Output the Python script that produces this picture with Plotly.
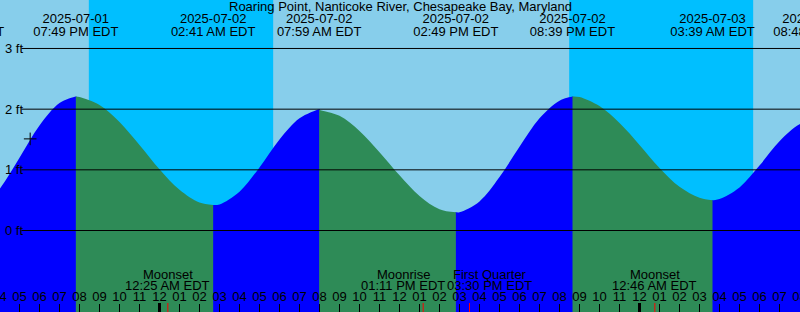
import plotly.graph_objects as go
import pandas as pd

# ---------------- data ----------------
title_text = "Roaring Point, Nanticoke River, Chesapeake Bay, Maryland"

# tide extremes (EDT)
ext_times = ['2025-07-01 14:06', '2025-07-01 19:49', '2025-07-02 02:41', '2025-07-02 07:59',
             '2025-07-02 14:49', '2025-07-02 20:39', '2025-07-03 03:39', '2025-07-03 08:48']
ext_heights = [0.20, 2.21, 0.42, 2.00, 0.30, 2.21, 0.50, 1.83]
ext_date_labels = ['2025-07-01', '2025-07-01', '2025-07-02', '2025-07-02',
                   '2025-07-02', '2025-07-02', '2025-07-03', '2025-07-03']
ext_time_labels = ['02:06 PM EDT', '07:49 PM EDT', '02:41 AM EDT', '07:59 AM EDT',
                   '02:49 PM EDT', '08:39 PM EDT', '03:39 AM EDT', '08:48 AM EDT']

# hourly water heights (ft), from 2025-07-01 15:00 to 2025-07-03 09:00
hourly_start = '2025-07-01 15:00'
hourly_heights = [0.31, 0.68, 1.20, 1.73, 2.10, 2.20, 2.07, 1.79, 1.41, 1.01,
                  0.67, 0.46, 0.43, 0.64, 1.04, 1.50, 1.85, 1.99, 1.89, 1.64,
                  1.29, 0.91, 0.57, 0.35, 0.30, 0.48, 0.88, 1.38, 1.85, 2.14,
                  2.20, 2.05, 1.77, 1.41, 1.03, 0.72, 0.54, 0.52, 0.71, 1.07,
                  1.47, 1.75, 1.83]

# sunset / sunrise
night_starts = ['2025-07-01 20:28', '2025-07-02 20:29']
night_ends = ['2025-07-02 05:41', '2025-07-03 05:41']

# moon events
moon_times = ['2025-07-02 00:25', '2025-07-02 13:11', '2025-07-02 15:30', '2025-07-03 00:46']
moon_names = ['Moonset', 'Moonrise', 'First Quarter', 'Moonset']
moon_time_labels = ['12:25 AM EDT', '01:11 PM EDT', '03:30 PM EDT', '12:46 AM EDT']

midnights = ['2025-07-02 00:00', '2025-07-03 00:00']

depth_values = [0, 1, 2, 3]
depth_labels = ['0 ft', '1 ft', '2 ft', '3 ft']

hour_ticks = pd.date_range('2025-07-01 16:00', '2025-07-03 08:00', freq='h')
hour_tick_labels = [t.strftime('%I') for t in hour_ticks]

mark_time = '2025-07-01 17:32'
mark_height = 1.51

# ---------------- styling constants ----------------
DAY = '#87CEEB'
NIGHT = '#00BFFF'
FLOOD = '#0000FF'
EBB = '#2E8B57'
FONT = 'Liberation Sans, Arial, sans-serif'
FS = 13
X_RANGE = ['2025-07-01 16:01:30', '2025-07-03 08:01:30']
Y_RANGE = [-1.343, 3.799]
BOTTOM = -3.0
OVERLAP = pd.Timedelta(minutes=2)   # flood areas reach slightly under the ebb areas

# ---------------- build ----------------
hourly_times = pd.date_range(hourly_start, periods=len(hourly_heights), freq='h')
curve = pd.concat([
    pd.Series(hourly_heights, index=hourly_times),
    pd.Series(ext_heights, index=pd.to_datetime(ext_times)),
]).sort_index()

fig = go.Figure()


def add_area(seg, color):
    fig.add_trace(go.Scatter(x=[seg.index[0], seg.index[-1]], y=[BOTTOM, BOTTOM],
                             mode='lines', line=dict(width=0), hoverinfo='skip'))
    fig.add_trace(go.Scatter(x=seg.index, y=seg.values, mode='lines',
                             line=dict(width=0, shape='spline', smoothing=1),
                             fill='tonexty', fillcolor=color, hoverinfo='skip'))


ext_dt = pd.to_datetime(ext_times)
# flood (rising) areas first, reaching a hair past each extreme
for i in range(len(ext_dt) - 1):
    if ext_heights[i + 1] > ext_heights[i]:
        seg = curve[(curve.index >= ext_dt[i]) & (curve.index <= ext_dt[i + 1])]
        seg = pd.concat([
            pd.Series([ext_heights[i]], index=[ext_dt[i] - OVERLAP]),
            seg,
            pd.Series([ext_heights[i + 1]], index=[ext_dt[i + 1] + OVERLAP]),
        ])
        add_area(seg, FLOOD)
# ebb (falling) areas on top
for i in range(len(ext_dt) - 1):
    if ext_heights[i + 1] < ext_heights[i]:
        seg = curve[(curve.index >= ext_dt[i]) & (curve.index <= ext_dt[i + 1])]
        add_area(seg, EBB)

# current-time mark
fig.add_trace(go.Scatter(x=[mark_time], y=[mark_height], mode='markers',
                         marker=dict(symbol='cross-thin', size=9,
                                     line=dict(color='black', width=1)),
                         hoverinfo='skip'))

txtfont = dict(family=FONT, size=FS, color='black')
# tide event labels (text traces so partially visible ones get clipped at the edges)
fig.add_trace(go.Scatter(x=ext_times, y=[20.2] * len(ext_times), yaxis='y2',
                         mode='text', text=ext_date_labels, textposition='middle center',
                         textfont=txtfont, hoverinfo='skip'))
fig.add_trace(go.Scatter(x=ext_times, y=[32.4] * len(ext_times), yaxis='y2',
                         mode='text', text=ext_time_labels, textposition='middle center',
                         textfont=txtfont, hoverinfo='skip'))
# hour labels along the bottom
fig.add_trace(go.Scatter(x=hour_ticks, y=[298.2] * len(hour_ticks), yaxis='y2',
                         mode='text', text=hour_tick_labels, textposition='middle center',
                         textfont=txtfont, hoverinfo='skip'))

shapes = []
for s, e in zip(night_starts, night_ends):
    shapes.append(dict(type='rect', xref='x', yref='paper', x0=s, x1=e, y0=0, y1=1,
                       fillcolor=NIGHT, line=dict(width=0), layer='below'))
for d in depth_values:
    shapes.append(dict(type='line', xref='paper', yref='y', x0=21.5 / 800, x1=1, y0=d, y1=d,
                       line=dict(color='black', width=1), layer='above'))
for m in midnights:
    shapes.append(dict(type='line', xref='x', yref='paper', x0=m, x1=m, y0=0, y1=9 / 312,
                       line=dict(color='black', width=3), layer='above'))
for m in moon_times:
    shapes.append(dict(type='line', xref='x', yref='paper', x0=m, x1=m, y0=0, y1=9 / 312,
                       line=dict(color='red', width=1), layer='above'))

annotations = [dict(text=title_text, xref='paper', x=0.5, yref='y2', y=6.5,
                    xanchor='center', yanchor='middle', showarrow=False, font=txtfont)]
for d, lab in zip(depth_values, depth_labels):
    annotations.append(dict(text=lab, xref='paper', x=2.5 / 800, yref='y', y=d,
                            xanchor='left', yanchor='middle', showarrow=False, font=txtfont))
moon_shift = [0, -20, 20, 0]
for t, n, lab, sh in zip(moon_times, moon_names, moon_time_labels, moon_shift):
    annotations.append(dict(text=n, xref='x', x=t, xshift=sh, yref='y2', y=274,
                            xanchor='center', yanchor='middle', showarrow=False, font=txtfont))
    annotations.append(dict(text=lab, xref='x', x=t, xshift=sh, yref='y2', y=285.8,
                            xanchor='center', yanchor='middle', showarrow=False, font=txtfont))

fig.update_layout(
    width=800, height=312,
    margin=dict(l=0, r=0, t=0, b=0, pad=0, autoexpand=False),
    showlegend=False,
    paper_bgcolor=DAY, plot_bgcolor=DAY,
    xaxis=dict(type='date', range=X_RANGE, showgrid=False, zeroline=False, showline=False,
               automargin=False, domain=[0, 1],
               ticks='inside', ticklen=8, tickwidth=1, tickcolor='black',
               tickvals=hour_ticks, showticklabels=False, fixedrange=True),
    yaxis=dict(range=Y_RANGE, visible=False, showgrid=False, zeroline=False,
               automargin=False, fixedrange=True),
    yaxis2=dict(range=[312, 0], overlaying='y', visible=False, automargin=False,
                fixedrange=True),
    shapes=shapes,
    annotations=annotations,
)

fig.write_html("out.html")
